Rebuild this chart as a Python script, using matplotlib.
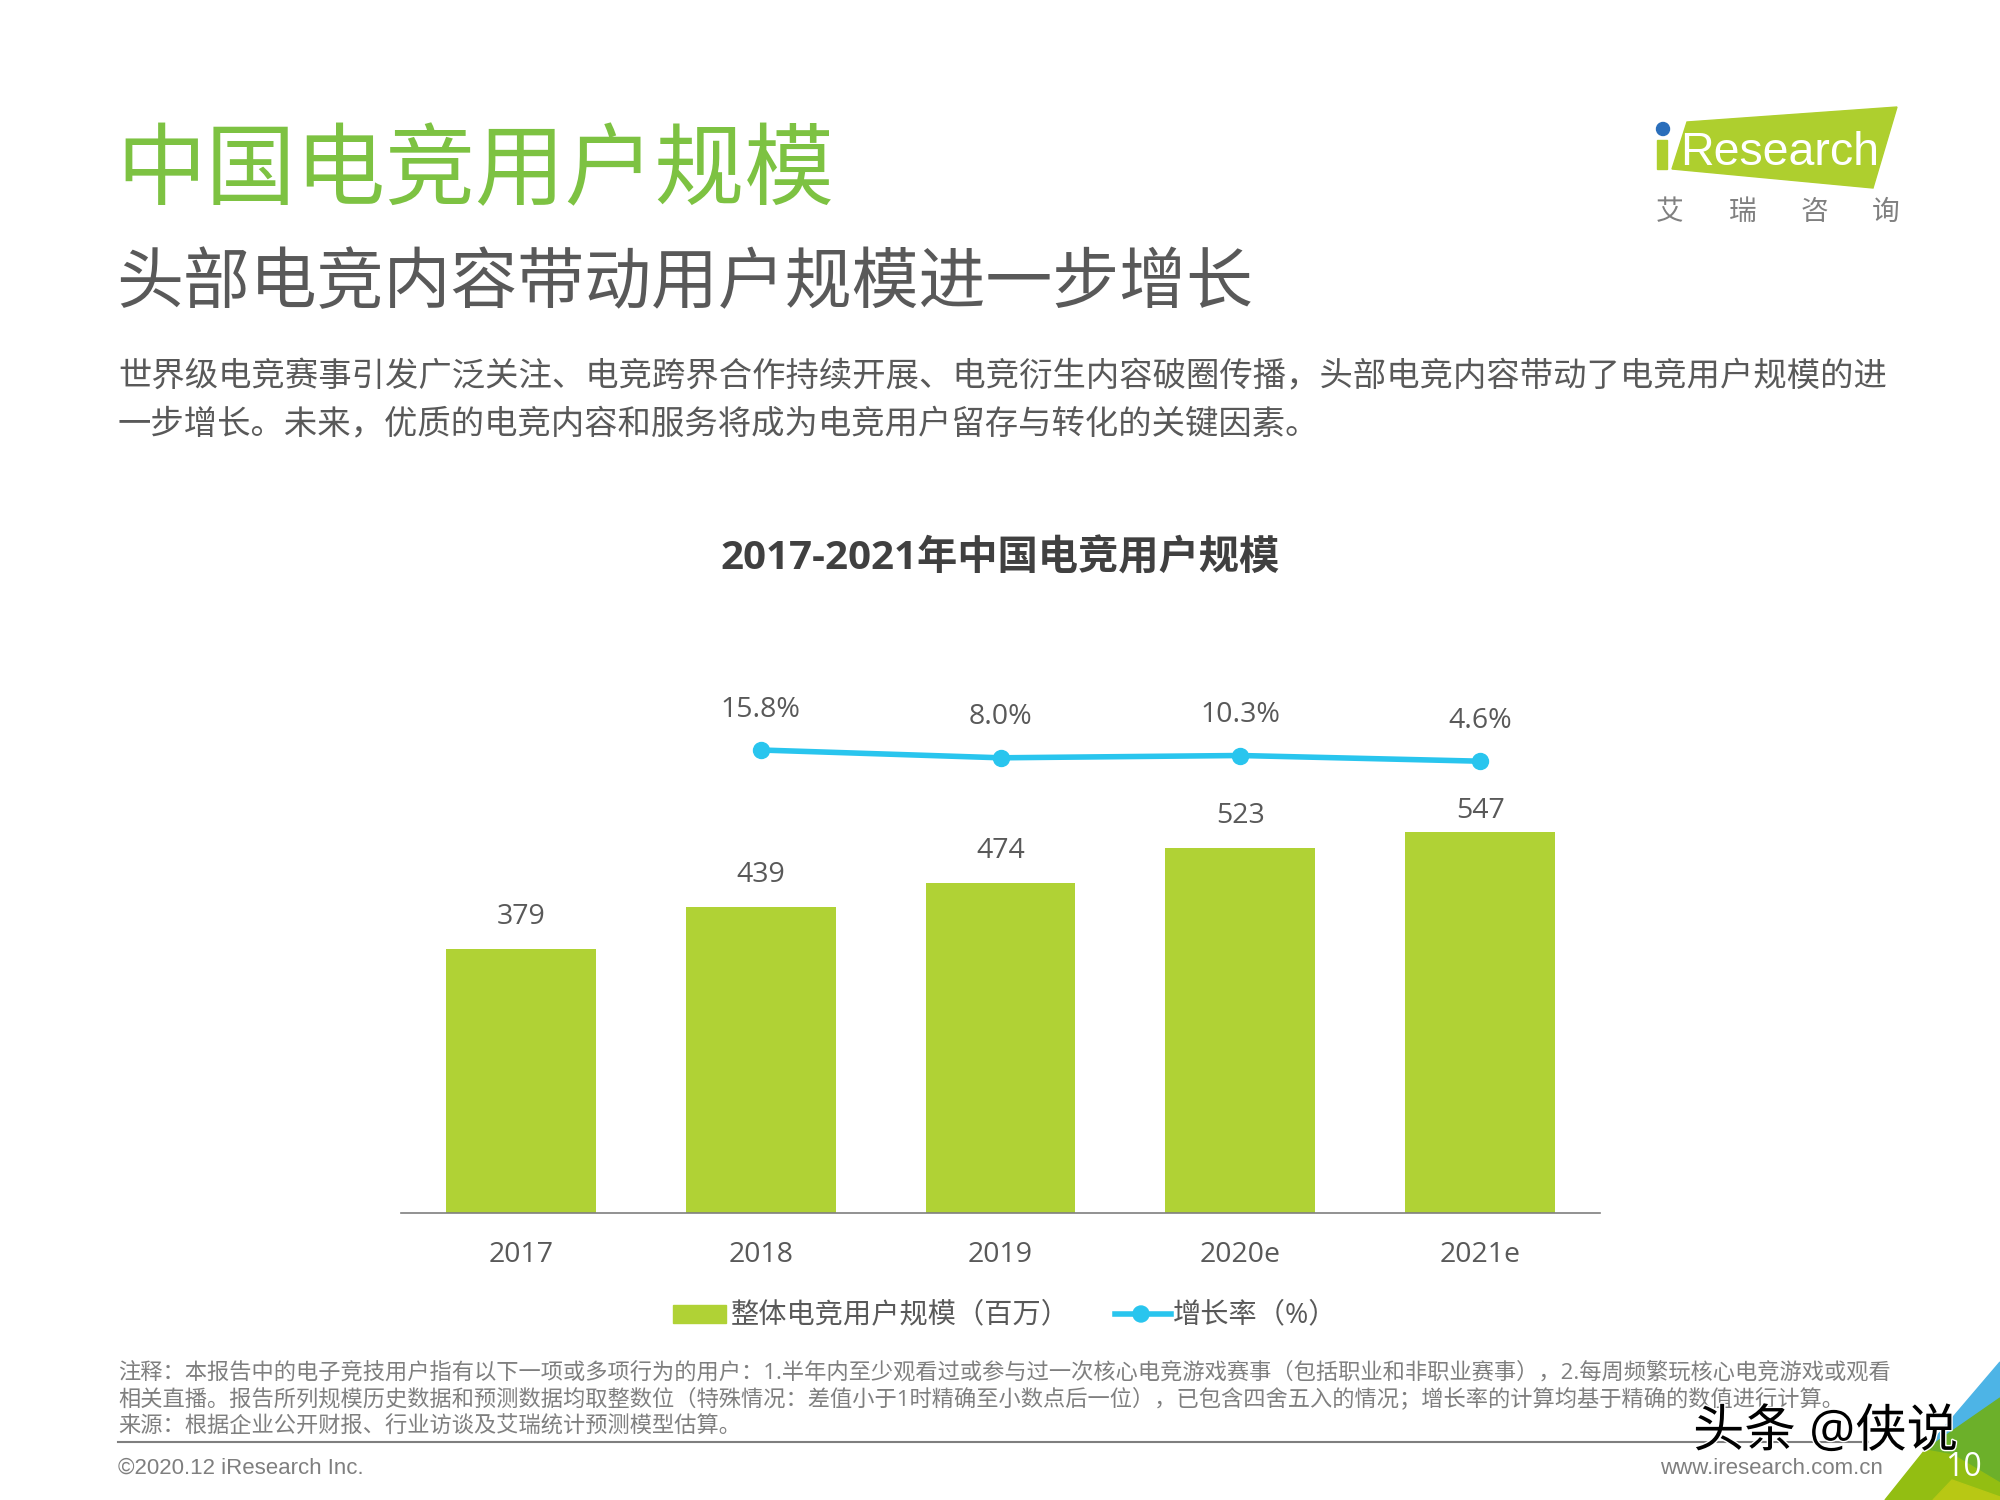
import matplotlib
matplotlib.use('Agg')
import matplotlib.pyplot as plt
import matplotlib.patheffects as pe
from matplotlib.patches import Polygon, Circle, Rectangle
from matplotlib.lines import Line2D

plt.rcParams['font.family'] = ['Open Sans', 'Noto Sans CJK SC', 'DejaVu Sans']

years = ['2017', '2018', '2019', '2020e', '2021e']
users = [379, 439, 474, 523, 547]
growth = [15.8, 8.0, 10.3, 4.6]
growth_labels = ['15.8%', '8.0%', '10.3%', '4.6%']

title = '中国电竞用户规模'
subtitle = '头部电竞内容带动用户规模进一步增长'
body = ['世界级电竞赛事引发广泛关注、电竞跨界合作持续开展、电竞衍生内容破圈传播，头部电竞内容带动了电竞用户规模的进',
        '一步增长。未来，优质的电竞内容和服务将成为电竞用户留存与转化的关键因素。']
chart_title = '2017-2021年中国电竞用户规模'
notes = ['注释：本报告中的电子竞技用户指有以下一项或多项行为的用户：1.半年内至少观看过或参与过一次核心电竞游戏赛事（包括职业和非职业赛事），2.每周频繁玩核心电竞游戏或观看',
         '相关直播。报告所列规模历史数据和预测数据均取整数位（特殊情况：差值小于1时精确至小数点后一位），已包含四舍五入的情况；增长率的计算均基于精确的数值进行计算。',
         '来源：根据企业公开财报、行业访谈及艾瑞统计预测模型估算。']

W, H = 2000, 1500
GREY = '#595959'
BAR = '#B0D235'
LINE = '#29C5EE'

fig = plt.figure(figsize=(20, 15), dpi=100, facecolor='white')

# overlay in pixel coordinates for the page furniture
page = fig.add_axes([0, 0, 1, 1], zorder=3)
page.set_xlim(0, W)
page.set_ylim(H, 0)
page.axis('off')
page.patch.set_alpha(0)

# chart axes
left, right, top, bottom = 401, 1600, 600, 1213
ax = fig.add_axes([left / W, 1 - bottom / H, (right - left) / W, (bottom - top) / H])
ax.bar(range(5), users, width=0.625, color=BAR)
ax.set_xlim(-0.5, 4.5)
ax.set_ylim(0, (bottom - top) / 0.697)
ax.set_xticks(range(5))
ax.set_xticklabels(years, fontsize=20.5, color=GREY)
ax.tick_params(axis='x', length=0, pad=20.5)
ax.set_yticks([])
for s in ['top', 'left', 'right']:
    ax.spines[s].set_visible(False)
ax.spines['bottom'].set_color('#7f7f7f')
ax.spines['bottom'].set_linewidth(1.2)
for i, v in enumerate(users):
    # last label sits closer to its bar so it clears the line
    ax.annotate(str(v), (i, v), xytext=(0, 5 if i == 4 else 13), textcoords='offset points',
                ha='center', va='bottom', fontsize=20.5, color=GREY)

ax2 = ax.twinx()
ax2.plot(range(1, 5), growth, color=LINE, lw=4, marker='o', ms=11.5)
ax2.set_ylim(-447.2, 165.8)
ax2.axis('off')
for i, v in enumerate(growth):
    ax2.annotate(growth_labels[i], (i + 1, v), xytext=(0, 19), textcoords='offset points', ha='center', va='bottom',
                 fontsize=20.5, color=GREY)

# headings
page.text(116, 175, title, fontsize=64.6, color='#7DC242', va='center', ha='left')
page.text(116, 285, subtitle, fontsize=48.2, color=GREY, va='center', ha='left')
page.text(118, 378, body[0], fontsize=24, color=GREY, va='center', ha='left')
page.text(118, 425, body[1], fontsize=24, color=GREY, va='center', ha='left')
page.text(1000, 559, chart_title, fontsize=29, color='#404040', va='center', ha='center', fontweight='bold')

# legend
page.add_patch(Rectangle((673, 1305), 53, 18, color=BAR))
page.text(731, 1315, '整体电竞用户规模（百万）', fontsize=20.3, color=GREY, va='center', ha='left')
page.add_line(Line2D([1115, 1171], [1314, 1314], color=LINE, lw=4))
page.add_patch(Circle((1141, 1314), 8, color=LINE))
page.text(1173, 1315, '增长率（%）', fontsize=20.3, color=GREY, va='center', ha='left')

# footnotes
for y, line in zip([1373, 1399, 1427], notes):
    page.text(118, y, line, fontsize=16, color='#7f7f7f', va='center', ha='left')
page.plot([118, 1868], [1442, 1442], color='#7f7f7f', lw=1.5)
page.text(118, 1468, '©2020.12 iResearch Inc.', fontsize=16, color='#7f7f7f', va='center', ha='left',
          family='Liberation Sans')
page.text(1883, 1468, 'www.iresearch.com.cn', fontsize=16, color='#7f7f7f', va='center', ha='right',
          family='Liberation Sans')

# logo
page.add_patch(Polygon([(1687, 122), (1897, 107), (1873, 188), (1672, 169)], color='#AECF2E'))
page.add_patch(Rectangle((1657, 140), 10, 29, color='#AECF2E'))
page.add_patch(Circle((1663, 129), 6.5, color='#2A6EBB'))
page.text(1680, 165, 'Research', fontsize=33.5, color='white', va='baseline', ha='left', family='Liberation Sans')
for x, ch in zip([1670, 1743, 1814, 1886], '艾瑞咨询'):
    page.text(x, 213, ch, fontsize=20, color='#808080', va='center', ha='center')

# corner
page.add_patch(Polygon([(2000, 1362), (1925, 1450), (2000, 1398)], color='#4DB4E6'))
page.add_patch(Polygon([(2000, 1398), (1925, 1450), (1953, 1455), (2000, 1483)], color='#6CB02A'))
page.add_patch(Polygon([(1925, 1450), (1885, 1500), (2000, 1500), (2000, 1483), (1953, 1455)], color='#93BE12'))
page.add_patch(Polygon([(1933, 1500), (1952, 1480), (2000, 1497), (2000, 1500)], color='#B8C814'))
page.text(1963, 1467, '10', fontsize=23, color='white', va='center', ha='center')

# watermark
page.text(1693, 1433, '头条 @侠说', fontsize=37, color='black', va='center', ha='left',
          path_effects=[pe.withStroke(linewidth=2, foreground='white')])

fig.savefig('out.png', dpi=100)
